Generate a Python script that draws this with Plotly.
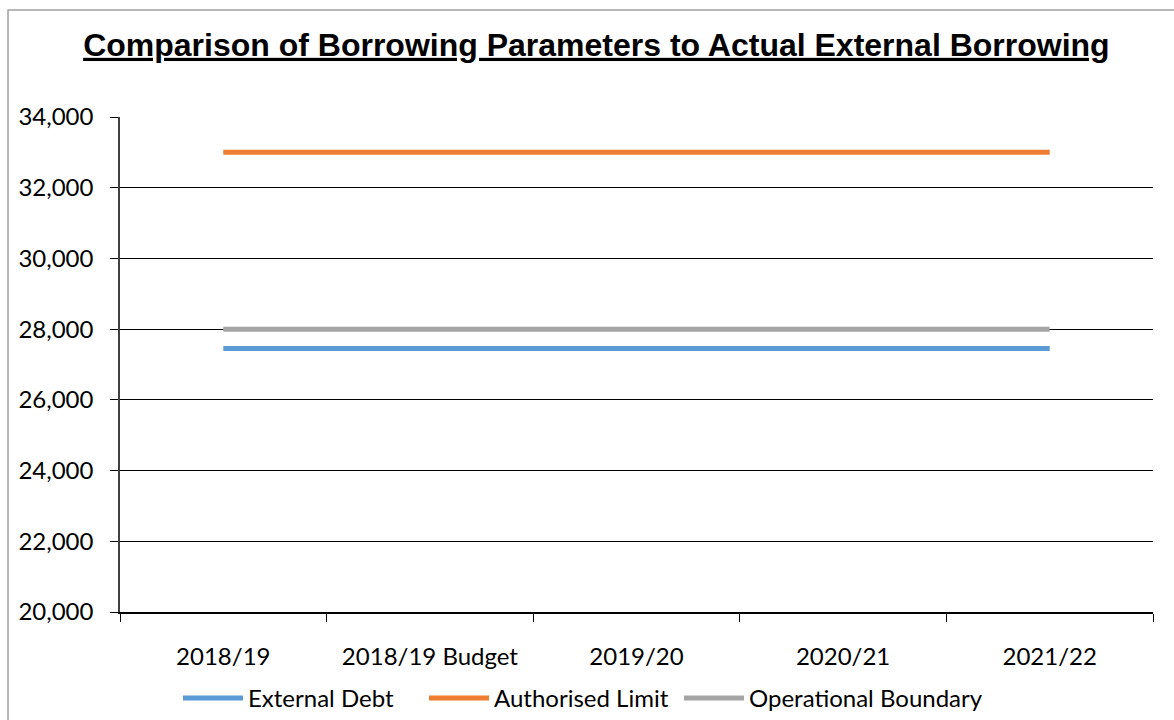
import plotly.graph_objects as go

categories = ["2018/19", "2018/19 Budget", "2019/20", "2020/21", "2021/22"]
external_debt = [27450, 27450, 27450, 27450, 27450]
authorised_limit = [33000, 33000, 33000, 33000, 33000]
operational_boundary = [28000, 28000, 28000, 28000, 28000]
y_ticks = [20000, 22000, 24000, 26000, 28000, 30000, 32000, 34000]
y_tick_labels = ["20,000", "22,000", "24,000", "26,000", "28,000", "30,000", "32,000", "34,000"]

font_family = "Lato, Open Sans, sans-serif"

fig = go.Figure()
fig.add_trace(go.Scatter(x=categories, y=external_debt, mode="lines", name="External Debt",
                         line=dict(color="#5B9BD5", width=5), legend="legend"))
fig.add_trace(go.Scatter(x=categories, y=authorised_limit, mode="lines", name="Authorised Limit",
                         line=dict(color="#ED7D31", width=5), legend="legend2"))
fig.add_trace(go.Scatter(x=categories, y=operational_boundary, mode="lines", name="Operational Boundary",
                         line=dict(color="#A5A5A5", width=5), legend="legend3"))

def leg(xpx):
    return dict(orientation="h", xref="container", x=xpx / 1174, xanchor="left",
                yref="container", y=0.03, yanchor="middle",
                font=dict(family=font_family, size=24, color="black"),
                itemwidth=60, bgcolor="rgba(0,0,0,0)")

fig.update_layout(
    width=1174, height=720,
    margin=dict(l=120, r=21, t=117, b=108),
    paper_bgcolor="white", plot_bgcolor="white",
    title=dict(text="<b><u>Comparison of Borrowing Parameters to Actual External Borrowing</u></b>",
               x=0.508, xanchor="center", y=0.938, yanchor="middle",
               font=dict(family="Liberation Sans, Arial, sans-serif", size=32, color="black")),
    showlegend=True,
    legend=leg(184 - 6),
    legend2=leg(430 - 6),
    legend3=leg(685 - 6),
    font=dict(family=font_family, size=24, color="black"),
    shapes=[dict(type="rect", xref="paper", yref="paper",
                 x0=-0.1084, x1=1.1, y0=-0.3, y1=1.216,
                 line=dict(color="#A0A0A0", width=1.5), layer="below")],
)

fig.update_xaxes(
    type="category", range=[-0.5, 4.5], tickson="boundaries",
    showline=True, linecolor="black", linewidth=1.5,
    ticks="outside", ticklen=8, tickcolor="black", tickwidth=1,
    showgrid=False, tickfont=dict(family=font_family, size=24, color="black"),
    ticklabelstandoff=22, automargin=False,
)
fig.update_yaxes(
    range=[20000, 34000], tickvals=y_ticks, ticktext=y_tick_labels,
    showline=True, linecolor="#404040", linewidth=1.5,
    showgrid=True, gridcolor="black", gridwidth=1.2,
    ticks="outside", ticklen=8, tickcolor="black",
    tickfont=dict(family=font_family, size=24, color="black"),
    ticklabelstandoff=12, automargin=False,
    zeroline=False,
)

fig.write_html("out.html")
